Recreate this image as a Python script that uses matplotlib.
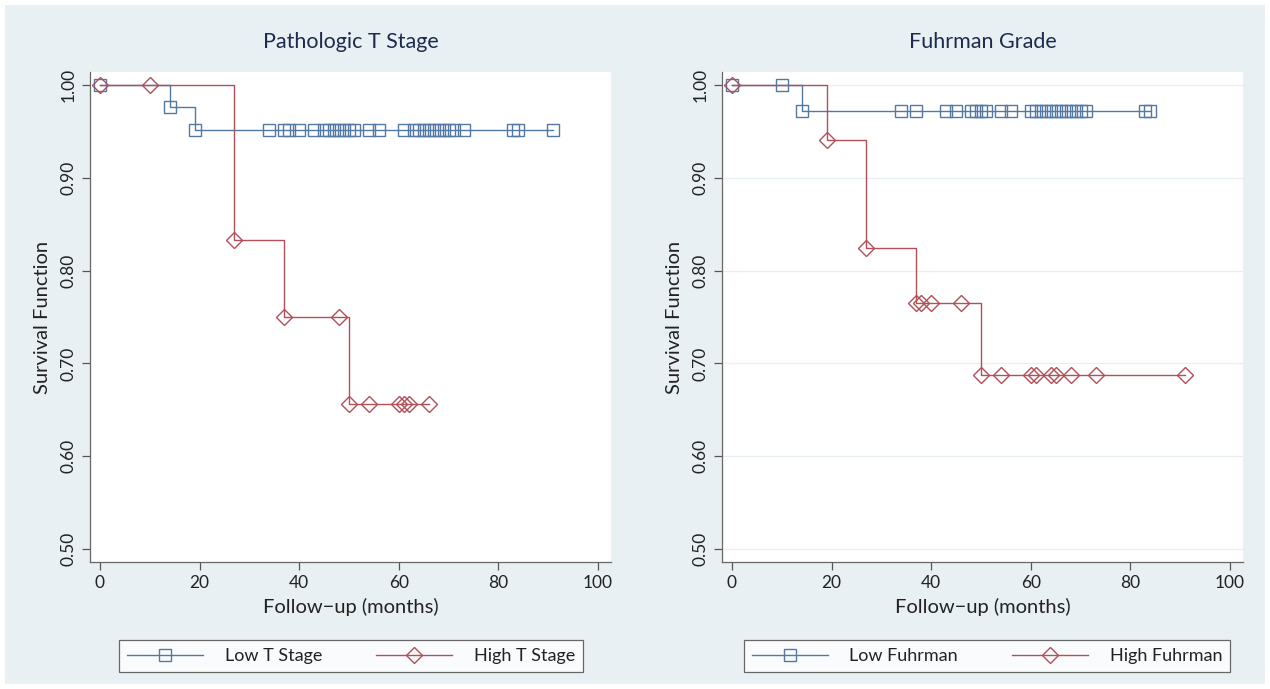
import numpy as np
import matplotlib
matplotlib.use('Agg')
import matplotlib.pyplot as plt
from matplotlib.lines import Line2D
from matplotlib.patches import Rectangle

plt.rcParams['font.family'] = ['Lato', 'DejaVu Sans']

# ---- data (time in months, survival estimate) ----
lowT_time = [0, 14, 19, 34, 37, 38, 40, 43, 45, 46, 47, 48, 49, 50, 51, 54, 56,
             61, 63, 64, 65, 66, 67, 68, 69, 70, 71, 73, 83, 84, 91]
lowT_surv = [1.0, 0.976, 0.951] + [0.951] * 28

highT_time = [0, 10, 27, 37, 48, 50, 54, 60, 61, 62, 66]
highT_surv = [1.0, 1.0, 0.833, 0.75, 0.75, 0.656, 0.656, 0.656, 0.656, 0.656, 0.656]

lowF_time = [0, 10, 14, 34, 37, 43, 45, 48, 49, 50, 51, 54, 56, 60, 61, 62, 63,
             64, 65, 66, 67, 68, 69, 70, 71, 83, 84]
lowF_surv = [1.0, 1.0, 0.972] + [0.972] * 24

highF_time = [0, 19, 27, 37, 38, 40, 46, 50, 54, 60, 61, 64, 65, 68, 73, 91]
highF_surv = [1.0, 0.941, 0.824, 0.765, 0.765, 0.765, 0.765,
              0.688, 0.688, 0.688, 0.688, 0.688, 0.688, 0.688, 0.688, 0.688]

titles = ['Pathologic T Stage', 'Fuhrman Grade']
legend_labels = [['Low T Stage', 'High T Stage'], ['Low Fuhrman', 'High Fuhrman']]
yticks = [0.5, 0.6, 0.7, 0.8, 0.9, 1.0]
xticks = [0, 20, 40, 60, 80, 100]

blue = '#5378a3'
red = '#b24f58'
bg = '#e9f0f3'
txt = '#222222'

fig = plt.figure(figsize=(12.7, 6.89), dpi=100, facecolor='white')
fig.patches.append(Rectangle((5 / 1270, 5 / 689), 1260 / 1270, 679 / 689,
                             transform=fig.transFigure, facecolor=bg,
                             edgecolor='none', zorder=-10))

panels = [
    (lowT_time, lowT_surv, highT_time, highT_surv, 90, False),
    (lowF_time, lowF_surv, highF_time, highF_surv, 722, True),
]

for i, (t1, s1, t2, s2, xpix, grid) in enumerate(panels):
    ax = fig.add_axes([xpix / 1270, 1 - 562 / 689, 521 / 1270, 490 / 689])
    ax.set_facecolor('white')

    ax.step(t1, s1, where='post', color=blue, lw=1.0, zorder=3)
    ax.plot(t1, s1, ls='none', marker='s', ms=8, mfc='none', mec=blue, mew=1.0, zorder=4)
    ax.step(t2, s2, where='post', color=red, lw=1.0, zorder=3)
    ax.plot(t2, s2, ls='none', marker='D', ms=8.5, mfc='none', mec=red, mew=1.0, zorder=4)

    ax.set_xlim(-2.0, 102.6)
    ax.set_ylim(0.486, 1.014)
    ax.set_xticks(xticks)
    ax.set_yticks(yticks)
    ax.set_yticklabels([f'{v:.2f}' for v in yticks], rotation=90, va='center')
    ax.tick_params(axis='both', colors='#555555', labelcolor=txt, labelsize=12.5,
                   length=6, width=0.9, direction='out')
    if grid:
        ax.grid(axis='y', color='#e8eff1', lw=0.9)
        ax.set_axisbelow(True)

    for side in ['top', 'right']:
        ax.spines[side].set_visible(False)
    for side in ['left', 'bottom']:
        ax.spines[side].set_color('#666666')
        ax.spines[side].set_linewidth(0.9)

    ax.set_title(titles[i], fontsize=15.5, color='#1e2b4c', pad=17)
    ax.set_xlabel('Follow\u2212up (months)', fontsize=14.5, color=txt, labelpad=5)
    ax.set_ylabel('Survival Function', fontsize=14.5, color=txt, labelpad=7)

    handles = [
        Line2D([], [], color=blue, lw=1.0, marker='s', ms=8, mfc='none', mec=blue),
        Line2D([], [], color=red, lw=1.0, marker='D', ms=8.5, mfc='none', mec=red),
    ]
    leg_cx = (351 if i == 0 else 987) / 1270
    leg = fig.legend(handles, legend_labels[i], loc='center', ncol=2,
                     bbox_to_anchor=(leg_cx, 1 - 656 / 689), fontsize=13,
                     frameon=True, fancybox=False, edgecolor='#444444',
                     handlelength=4.2, columnspacing=3.0, handletextpad=1.2,
                     borderpad=0.45)
    leg.get_frame().set_linewidth(0.9)
    for tx in leg.get_texts():
        tx.set_color(txt)

fig.savefig('out.png', dpi=100, facecolor='white')
